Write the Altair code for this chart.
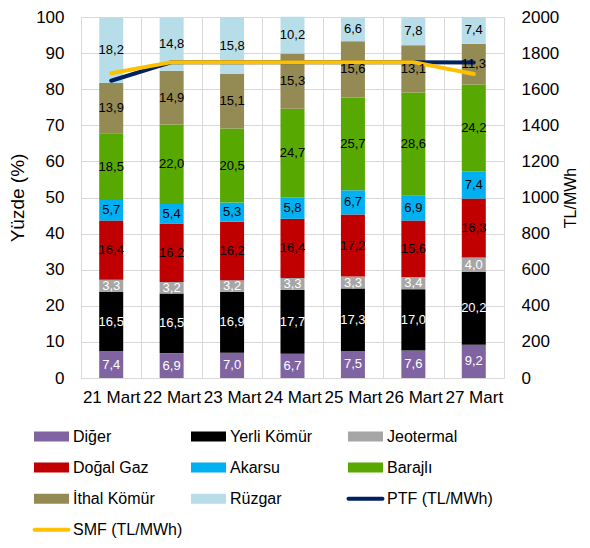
import altair as alt
import pandas as pd

DATES = ["21 Mart", "22 Mart", "23 Mart", "24 Mart", "25 Mart", "26 Mart", "27 Mart"]
SERIES = ["Diğer", "Yerli Kömür", "Jeotermal", "Doğal Gaz", "Akarsu", "Barajlı", "İthal Kömür", "Rüzgar"]
DIGER = [7.4, 6.9, 7.0, 6.7, 7.5, 7.6, 9.2]
YERLI = [16.5, 16.5, 16.9, 17.7, 17.3, 17.0, 20.2]
JEOTERMAL = [3.3, 3.2, 3.2, 3.3, 3.3, 3.4, 4.0]
DOGALGAZ = [16.4, 16.2, 16.2, 16.4, 17.2, 15.6, 16.3]
AKARSU = [5.7, 5.4, 5.3, 5.8, 6.7, 6.9, 7.4]
BARAJLI = [18.5, 22.0, 20.5, 24.7, 25.7, 28.6, 24.2]
ITHAL = [13.9, 14.9, 15.1, 15.3, 15.6, 13.1, 11.3]
RUZGAR = [18.2, 14.8, 15.8, 10.2, 6.6, 7.8, 7.4]
LINE_NAMES = ["PTF (TL/MWh)", "SMF (TL/MWh)"]
PTF = [1647, 1750, 1750, 1750, 1750, 1750, 1748]
SMF = [1688, 1750, 1750, 1750, 1750, 1750, 1684]

COLORS = ["#8064A2", "#000000", "#A6A6A6", "#C00000", "#00B0F0", "#57A800",
          "#948A54", "#B7DEE8", "#002060", "#FFC000"]
ALL_NAMES = SERIES + LINE_NAMES
WHITE_LABELS = ["Diğer", "Yerli Kömür", "Jeotermal"]

series_vals = [DIGER, YERLI, JEOTERMAL, DOGALGAZ, AKARSU, BARAJLI, ITHAL, RUZGAR]
rows = []
for si, (name, vals) in enumerate(zip(SERIES, series_vals)):
    for d, v in zip(DATES, vals):
        rows.append({"date": d, "series": name, "value": v, "order": si})
bars_df = pd.DataFrame(rows)

lrows = []
for name, vals in zip(LINE_NAMES, [PTF, SMF]):
    for d, v in zip(DATES, vals):
        lrows.append({"date": d, "name": name, "price": v})
line_df = pd.DataFrame(lrows)

leg_df = pd.DataFrame({
    "name": ALL_NAMES,
    "col": [i % 3 for i in range(len(ALL_NAMES))],
    "row": [i // 3 for i in range(len(ALL_NAMES))],
    "kind": ["bar"] * len(SERIES) + ["line"] * len(LINE_NAMES),
})

GRID = "#d9d9d9"
color_scale = alt.Scale(domain=ALL_NAMES, range=COLORS)

X = alt.X("date:N", sort=DATES,
          scale=alt.Scale(paddingInner=0, paddingOuter=0),
          axis=alt.Axis(title=None, labelAngle=0, labelFontSize=17, labelPadding=11,
                        grid=True, gridColor=GRID, tickBand="extent", ticks=False,
                        domainColor=GRID, labelColor="black", labelOverlap=False))

left_axis = alt.Axis(title="Yüzde (%)", orient="left", values=list(range(0, 101, 10)),
                     grid=True, gridColor=GRID, domainColor=GRID, ticks=False,
                     labelFontSize=17, labelPadding=17, labelColor="black",
                     titleFontSize=19, titleFontWeight="normal", titlePadding=8,
                     titleColor="black")
right_axis = alt.Axis(title="TL/MWh", orient="right", values=list(range(0, 2001, 200)),
                      format="d", grid=False, domain=False, ticks=False,
                      labelFontSize=17, labelPadding=17, labelColor="black",
                      titleFontSize=16, titleFontWeight="normal", titleAngle=270,
                      titleBaseline="top", titlePadding=4, titleColor="black")

base = alt.Chart(bars_df).transform_stack(
    stack="value", groupby=["date"], sort=[alt.SortField("order", order="ascending")],
    as_=["y0", "y1"]
).transform_calculate(
    mid="(datum.y0 + datum.y1) / 2",
    label="replace(format(datum.value, '.1f'), '.', ',')"
)

bars = base.mark_bar(width=24).encode(
    x=X,
    y=alt.Y("y0:Q", scale=alt.Scale(domain=[0, 100]), axis=left_axis),
    y2="y1:Q",
    color=alt.Color("series:N", scale=color_scale, legend=None),
)

text = base.mark_text(fontSize=13).encode(
    x=X,
    y=alt.Y("mid:Q", scale=alt.Scale(domain=[0, 100]), axis=None),
    text="label:N",
    color=alt.condition(alt.FieldOneOfPredicate(field="series", oneOf=WHITE_LABELS),
                        alt.value("white"), alt.value("black")),
)

lines = alt.Chart(line_df).mark_line(strokeWidth=4, strokeCap="round", strokeJoin="round").encode(
    x=X,
    y=alt.Y("price:Q", scale=alt.Scale(domain=[0, 2000]), axis=right_axis),
    color=alt.Color("name:N", scale=color_scale, legend=None),
)

main = alt.layer(bars, lines, text).resolve_scale(y="independent").properties(width=423, height=361)

LX = alt.X("col:Q", scale=alt.Scale(domain=[0.2994, 2.9936]), axis=None)
LY = alt.Y("row:Q", scale=alt.Scale(domain=[-0.5, 3.3], reverse=True), axis=None)

leg_rect = alt.Chart(leg_df).transform_filter(alt.datum.kind == "bar").mark_point(
    shape="M-1,-0.2857H1V0.2857H-1Z", filled=True, size=1225, opacity=1, xOffset=17.5
).encode(x=LX, y=LY, color=alt.Color("name:N", scale=color_scale, legend=None))

leg_line = alt.Chart(leg_df).transform_filter(alt.datum.kind == "line").mark_point(
    shape="M-1,0H1", filled=False, size=1156, strokeWidth=4, strokeCap="round",
    opacity=1, xOffset=17.5
).encode(x=LX, y=LY, color=alt.Color("name:N", scale=color_scale, legend=None))

leg_text = alt.Chart(leg_df).mark_text(align="left", baseline="middle", dx=39,
                                        fontSize=16, color="black").encode(
    x=LX, y=LY, text="name:N")

legend = alt.layer(leg_rect, leg_line, leg_text).properties(width=423, height=118)

chart = alt.vconcat(main, legend, spacing=16).properties(padding=0).configure(
    font="Liberation Sans"
).configure_view(stroke=None)

chart.save("out.html", embed_options={"renderer": "svg", "actions": False})
